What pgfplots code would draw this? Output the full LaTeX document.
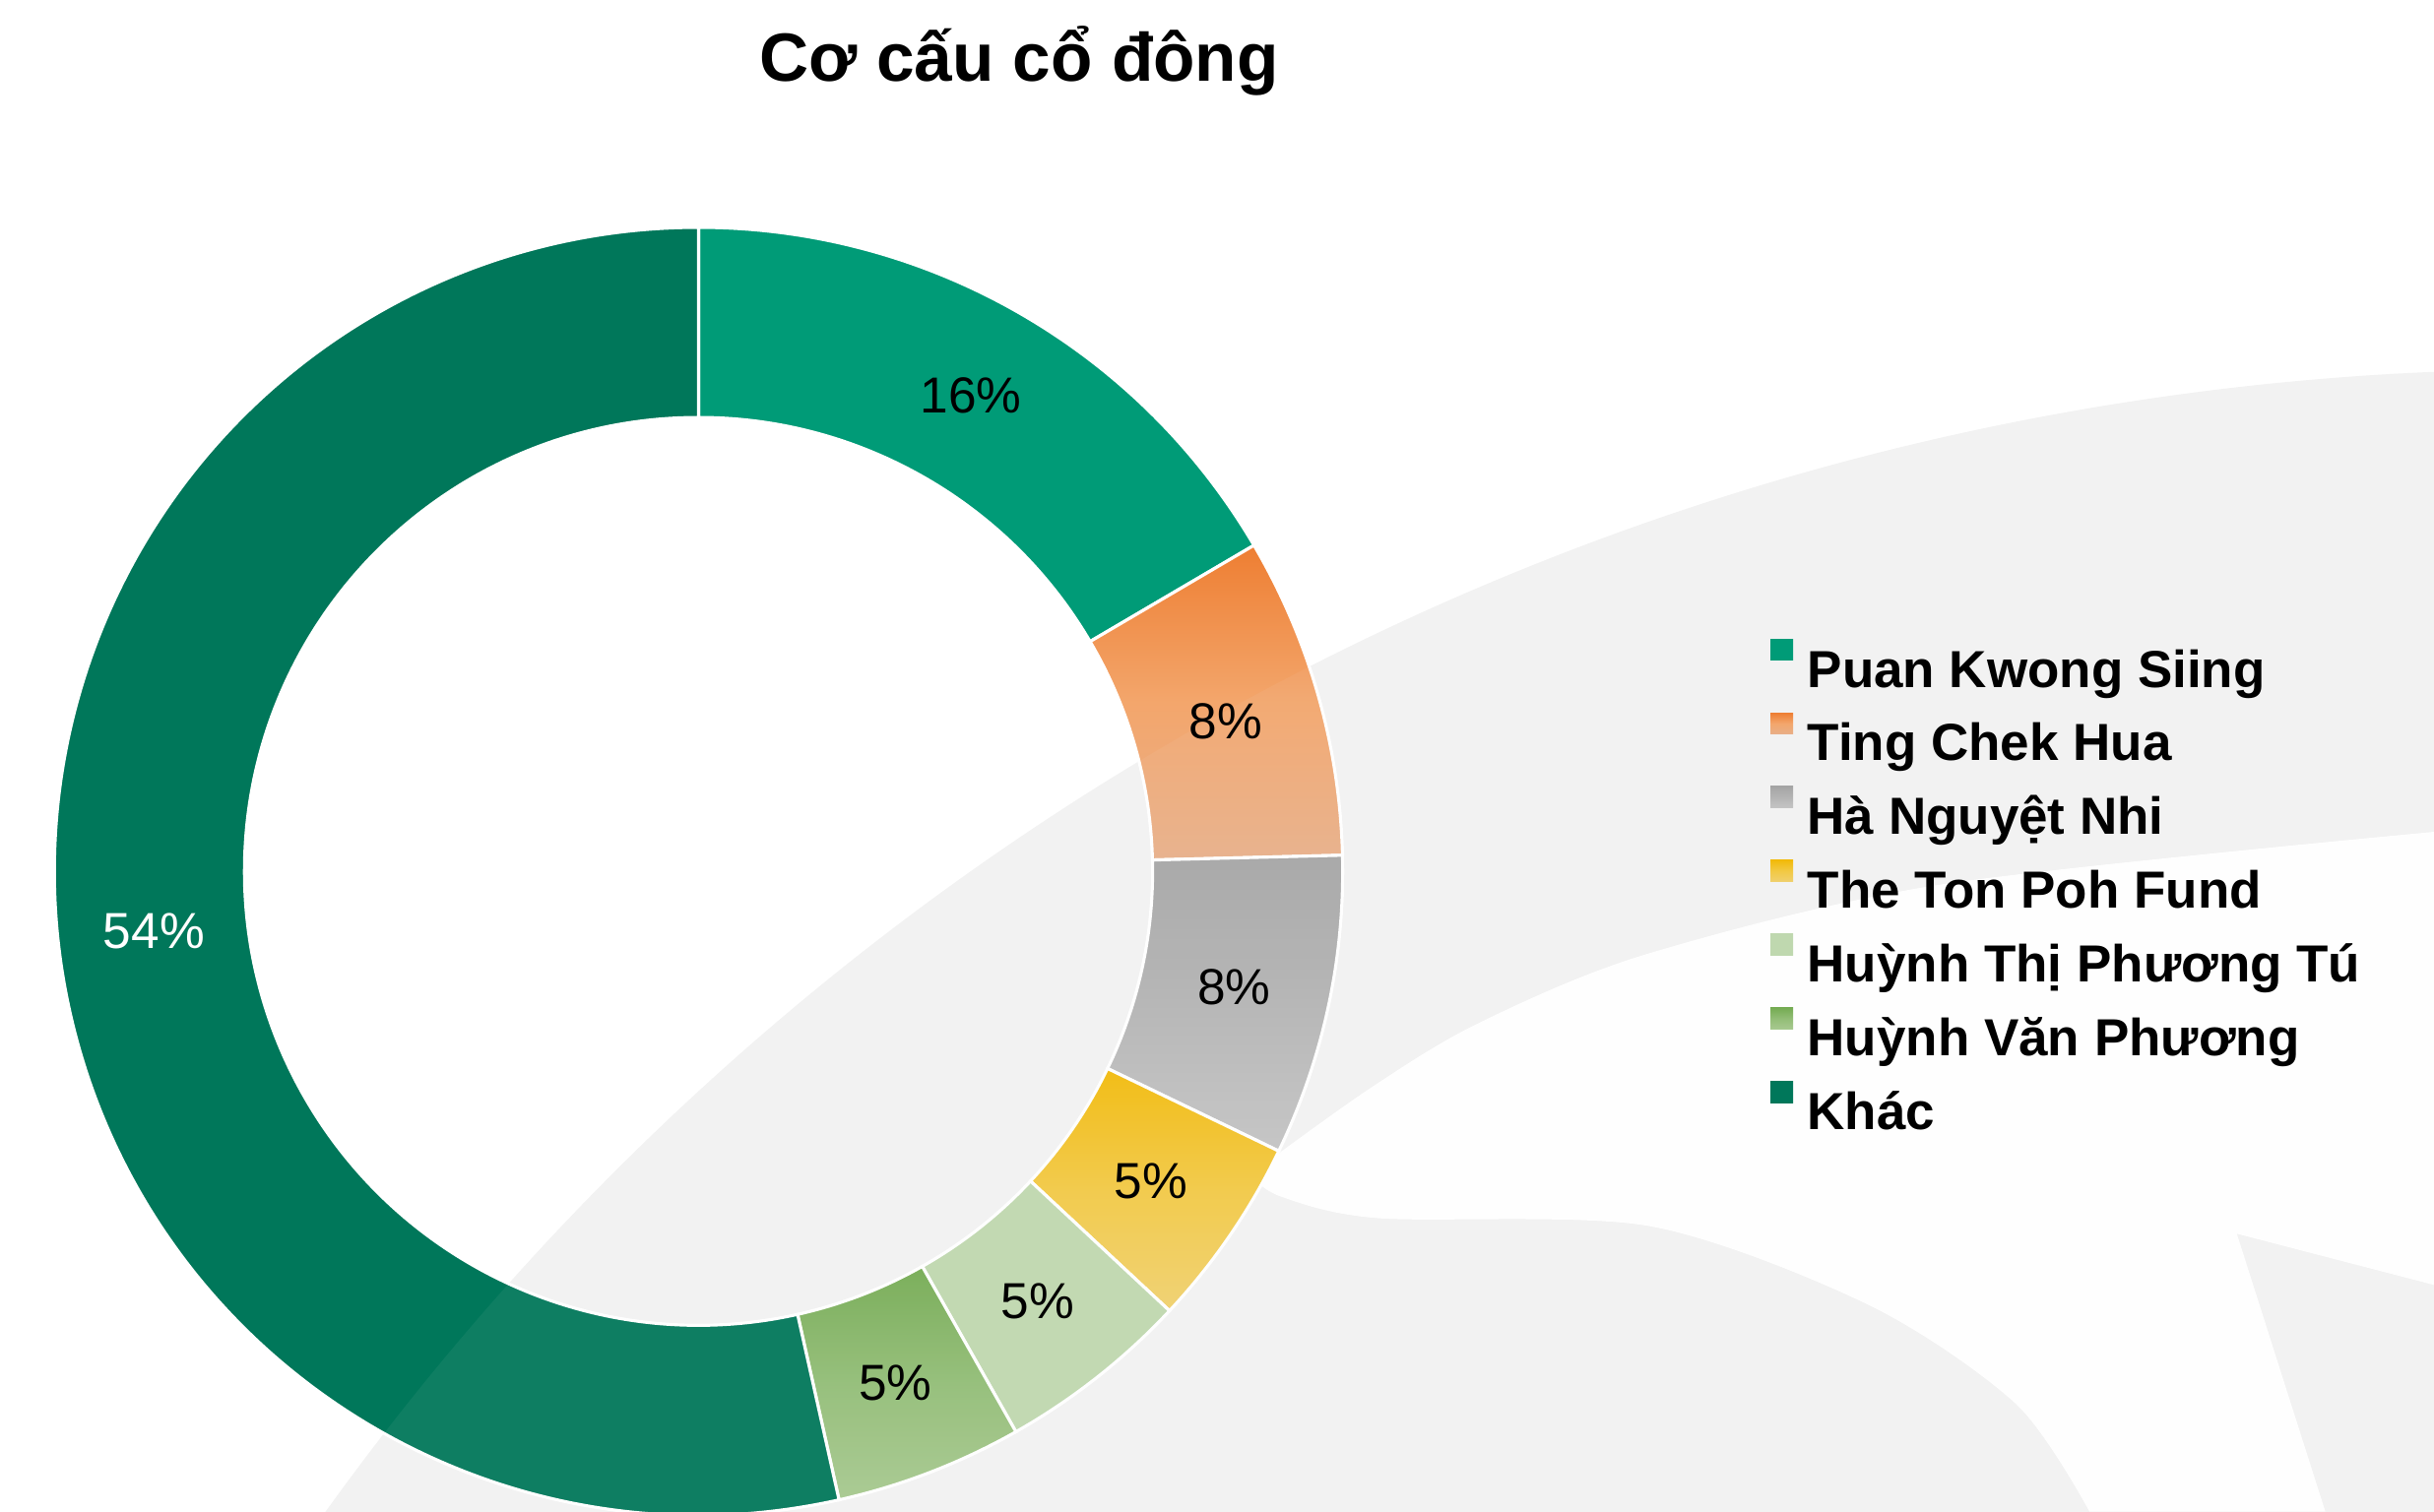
\documentclass[border=0pt]{standalone}
\usepackage{fontspec}
\setmainfont{Liberation Sans}
\usepackage{pgfplots}
\usepackage{pgfplotstable}
\pgfplotsset{compat=1.18}

\definecolor{wm}{HTML}{F2F2F2}
\definecolor{ct0}{HTML}{009B77}\definecolor{cm0}{HTML}{009B77}\definecolor{cb0}{HTML}{009B77}
\definecolor{ct1}{HTML}{EE7E32}\definecolor{cm1}{HTML}{F3A66C}\definecolor{cb1}{HTML}{E8AF89}
\definecolor{ct2}{HTML}{A5A5A5}\definecolor{cm2}{HTML}{B4B4B4}\definecolor{cb2}{HTML}{C4C4C4}
\definecolor{ct3}{HTML}{F2BA0A}\definecolor{cm3}{HTML}{F2C944}\definecolor{cb3}{HTML}{F0D06E}
\definecolor{ct4}{HTML}{BFD8AF}\definecolor{cm4}{HTML}{BFD8AF}\definecolor{cb4}{HTML}{BFD8AF}
\definecolor{ct5}{HTML}{74AB52}\definecolor{cm5}{HTML}{92BD76}\definecolor{cb5}{HTML}{A7C98F}
\definecolor{ct6}{HTML}{00775A}\definecolor{cm6}{HTML}{00775A}\definecolor{cb6}{HTML}{00775A}

\newcommand\pctfont{\fontsize{16.3bp}{19bp}\selectfont}
\newcommand\legfont{\fontsize{16.8bp}{20bp}\selectfont\bfseries}
\newcommand\titlefont{\fontsize{22bp}{26bp}\selectfont\bfseries}

\pgfplotstableread[col sep=semicolon]{
name;value;pct;lab
Puan Kwong Siing;16.55;16;black
Ting Chek Hua;8.05;8;black
Hà Nguyệt Nhi;7.55;8;black
The Ton Poh Fund;4.80;5;black
Huỳnh Thị Phương Tú;4.85;5;black
Huỳnh Văn Phương;4.70;5;black
Khác;53.50;54;white
}\shares

\begin{document}
\begin{tikzpicture}
\begin{axis}[
  width=784bp, height=487bp, scale only axis,
  xmin=0, xmax=1568, ymin=0, ymax=974,
  hide axis,
]
\path (rel axis cs:0,0) rectangle (rel axis cs:1,1);
% background watermark
\fill[wm] (axis cs:1644,-1029) circle[radius=882.5bp];
\fill[white] plot[smooth] coordinates {(805,217) (880,271) (951,314) (1060,359) (1250,404) (1568,438)}
  -- (1568,146) -- (1441,179) -- (1498,0) -- (1346,0)
  -- plot[smooth] coordinates {(1346,0) (1299,69) (1204,133) (1062,184) (888,189) (825,203) (805,217)} -- cycle;

% donut slices
\def\cum{0}
\pgfplotsforeachungrouped \i in {0,...,6}{%
  \pgfplotstablegetelem{\i}{value}\of\shares \let\val\pgfplotsretval
  \pgfmathsetmacro\aS{90-3.6*\cum}
  \pgfmathsetmacro\aE{90-3.6*(\cum+\val)}
  \edef\temp{%
    \noexpand\path[draw=white, line width=1bp, top color=ct\i, bottom color=cb\i, middle color=cm\i,
      shift={(axis cs:450,412.5)}]
      (\aS:207.5bp) arc[start angle=\aS, end angle=\aE, radius=207.5bp]
      -- (\aE:146.25bp) arc[start angle=\aE, end angle=\aS, radius=146.25bp] -- cycle;}%
  \temp
  \pgfmathsetmacro\cum{\cum+\val}%
}
% faint overlay of the watermark
\fill[wm, opacity=0.06] (axis cs:1644,-1029) circle[radius=882.5bp];

% labels and legend
\def\cum{0}
\pgfplotsforeachungrouped \i in {0,...,6}{%
  \pgfplotstablegetelem{\i}{value}\of\shares \let\val\pgfplotsretval
  \pgfplotstablegetelem{\i}{pct}\of\shares \let\pc\pgfplotsretval
  \pgfplotstablegetelem{\i}{lab}\of\shares \let\lc\pgfplotsretval
  \pgfplotstablegetelem{\i}{name}\of\shares \let\nm\pgfplotsretval
  \pgfmathsetmacro\aM{90-3.6*(\cum+\val/2)}
  \pgfmathsetmacro\lx{450+353*cos(\aM)}
  \pgfmathsetmacro\ly{412.5+353*sin(\aM)}
  \pgfmathsetmacro\yb{531.2-47.5*\i}
  \pgfmathsetmacro\ya{\yb+17.2}
  \pgfmathsetmacro\yc{\yb+31}
  \edef\temp{%
    \noexpand\node[anchor=center, inner sep=0pt, text=\lc, font=\noexpand\pctfont] at (axis cs:\lx,\ly) {\pc\noexpand\%};
    \noexpand\path[top color=ct\i, bottom color=cb\i, middle color=cm\i] (axis cs:1140.6,\ya) rectangle (axis cs:1155.1,\yc);
    \noexpand\node[anchor=base west, inner sep=0pt, text=black, font=\noexpand\legfont] at (axis cs:1164,\yb) {\nm};}%
  \temp
  \pgfmathsetmacro\cum{\cum+\val}%
}
\node[anchor=base, inner sep=0pt, font=\titlefont] at (axis cs:656.6,921.5) {Cơ cấu cổ đông};
\end{axis}
\end{tikzpicture}
\end{document}
